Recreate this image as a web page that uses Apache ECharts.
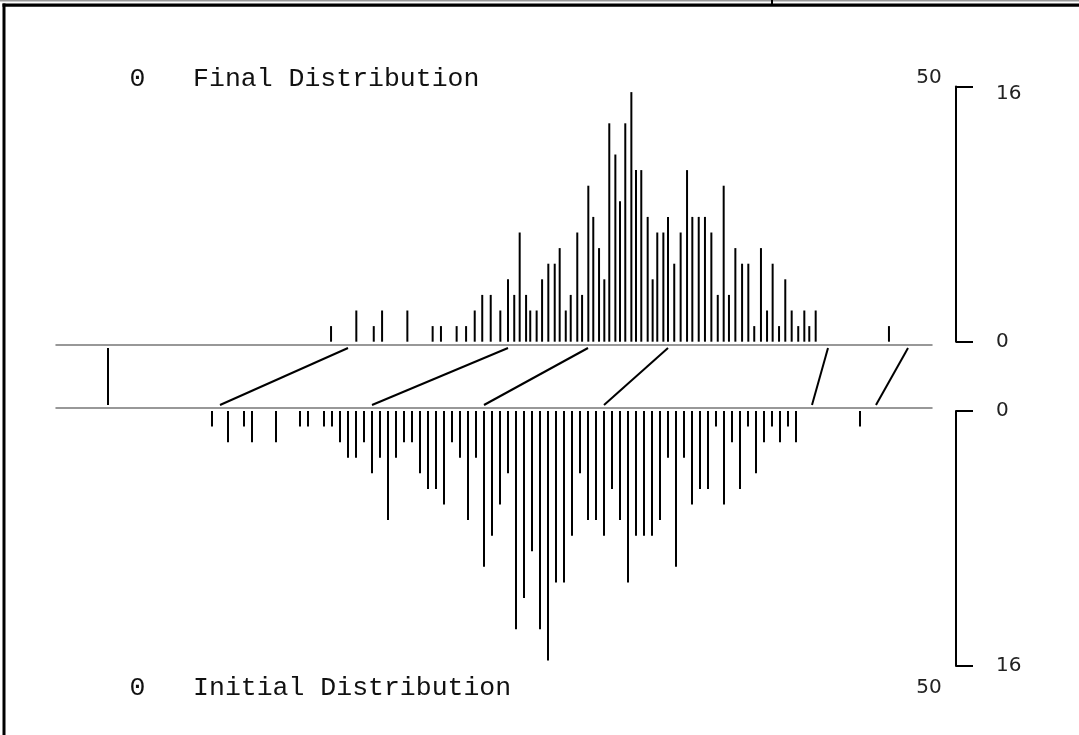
<!DOCTYPE html>
<html>
<head>
<meta charset="utf-8">
<script src="https://cdn.jsdelivr.net/npm/echarts@6/dist/echarts.min.js"></script>
<style>
html,body{margin:0;padding:0;background:#fff;}
#chart{width:1079px;height:735px;}
</style>
</head>
<body>
<div id="chart"></div>
<script>
// ---- data ----
// number of cases at each distinct score (same for both distributions)
const counts = [1,2,1,2,2,1,1,
  1,1,2,3,3,2,4,3,7,3,2,2,4,5,5,6,2,3,7,3,
  10,8,6,4,14,12,9,14,16,11,11,8,4,7,7,8,5,7,11,8,8,8,7,3,10,3,6,5,5,1,6,2,5,1,4,2,1,2,1,2,
  1];
// score of each bar in the initial distribution
const initialScores = [6.5,7.5,8.5,9,10.5,12,12.5,
  13.5,14,14.5,15,15.5,16,16.5,17,17.5,18,18.5,19,19.5,20,20.5,21,21.5,22,22.5,23,
  23.5,24,24.5,25,25.5,26,26.5,27,27.5,28,28.5,29,29.5,30,30.5,31,31.5,32,32.5,33,
  33.5,34,34.5,35,35.5,36,36.5,37,37.5,38,38.5,39,39.5,40,40.5,41,41.5,42,42.5,43,
  47];
// score of the same bar in the final distribution
const finalScores = [13.94,15.52,16.61,17.13,18.71,20.29,20.81,
  21.79,22.38,22.92,23.39,23.92,24.52,25.0,25.39,25.73,26.13,26.39,26.79,27.13,27.52,27.92,28.23,28.61,28.92,29.33,29.63,
  30.02,30.33,30.69,31.02,31.33,31.71,32.0,32.33,32.71,33.0,33.33,33.73,34.04,34.33,34.71,35.0,35.39,35.79,36.19,36.52,
  36.92,37.31,37.71,38.11,38.48,38.81,39.21,39.63,40.02,40.39,40.81,41.19,41.54,41.94,42.33,42.73,43.14,43.52,43.83,44.23,
  48.81];
// connecting lines: initial score -> final score
const knotInitial = [0, 7, 16.5, 23.5, 31, 44, 48];
const knotFinal   = [0, 15, 25, 30, 35, 45, 50];
// labels
const countTicks = [0, 16];
const scoreRangeLabels = ['0', '50'];
const titles = ['Final Distribution', 'Initial Distribution'];

// ---- chart ----
const chart = echarts.init(document.getElementById('chart'), null, {renderer: 'canvas'});
const monoFont = '"Liberation Mono", "DejaVu Sans Mono", monospace';
const sansFont = '"DejaVu Sans", "Liberation Sans", sans-serif';

const X_MIN = -3.25, X_MAX = 51.5;
const BAR_MAX = 16.36;

function scoreAxis(gridIndex, extra) {
  return Object.assign({
    type: 'value', gridIndex: gridIndex, min: X_MIN, max: X_MAX,
    axisLabel: {show: false}, axisTick: {show: false}, splitLine: {show: false},
    axisLine: {show: false}
  }, extra || {});
}
function bracketAxis(gridIndex, inverse, hiPad) {
  return {
    type: 'value', gridIndex: gridIndex, position: 'right', offset: 24,
    min: countTicks[0], max: countTicks[1], interval: countTicks[1] - countTicks[0],
    inverse: inverse,
    splitLine: {show: false},
    axisLine: {show: true, lineStyle: {color: '#000', width: 2}},
    axisTick: {show: true, length: 17, lineStyle: {color: '#000', width: 2}},
    axisLabel: {
      show: true, margin: 40, color: '#222',
      formatter: function (v) { return v === countTicks[1] ? '{hi|' + v + '}' : '{lo|' + v + '}'; },
      rich: {
        hi: {fontFamily: sansFont, fontSize: 20, color: '#222', padding: [hiPad, 0, 0, 0]},
        lo: {fontFamily: sansFont, fontSize: 20, color: '#222'}
      }
    }
  };
}

const option = {
  animation: false,
  backgroundColor: '#fff',
  grid: [
    {left: 56, right: 147, top: 86.5, height: 255.2, outerBoundsMode: 'none'},
    {left: 56, right: 147, top: 348, height: 57, outerBoundsMode: 'none'},
    {left: 56, right: 147, top: 411, height: 255, outerBoundsMode: 'none'}
  ],
  xAxis: [
    scoreAxis(0, {position: 'bottom', offset: 3, axisLine: {show: true, onZero: false, lineStyle: {color: '#777', width: 1.5}}}),
    scoreAxis(1, {show: false}),
    scoreAxis(2, {position: 'top', offset: 3, axisLine: {show: true, onZero: false, lineStyle: {color: '#777', width: 1.5}}})
  ],
  yAxis: [
    {type: 'value', gridIndex: 0, min: 0, max: BAR_MAX, show: false, position: 'left'},
    bracketAxis(0, false, 14),
    {type: 'value', gridIndex: 1, min: 0, max: 1, show: false},
    {type: 'value', gridIndex: 2, min: 0, max: BAR_MAX, inverse: true, show: false, position: 'left'},
    bracketAxis(2, true, 0)
  ],
  series: [
    {
      type: 'bar', xAxisIndex: 0, yAxisIndex: 0, barWidth: 2,
      itemStyle: {color: '#000'},
      data: finalScores.map(function (x, i) { return [x, counts[i]]; })
    },
    {
      type: 'bar', xAxisIndex: 2, yAxisIndex: 3, barWidth: 2,
      itemStyle: {color: '#000'},
      data: initialScores.map(function (x, i) { return [x, counts[i]]; })
    },
    {
      type: 'lines', coordinateSystem: 'cartesian2d', xAxisIndex: 1, yAxisIndex: 2,
      symbol: 'none',
      lineStyle: {color: '#000', width: 2, opacity: 1, curveness: 0},
      data: knotInitial.map(function (a, i) { return {coords: [[a, 0], [knotFinal[i], 1]]}; })
    }
  ],
  graphic: [
    {type: 'rect', shape: {x: 0, y: 0, width: 1079, height: 1.5}, style: {fill: '#999'}, silent: true},
    {type: 'rect', shape: {x: 2.5, y: 3.5, width: 1076.5, height: 3.2}, style: {fill: '#000'}, silent: true},
    {type: 'rect', shape: {x: 771, y: 0, width: 2, height: 4}, style: {fill: '#000'}, silent: true},
    {type: 'rect', shape: {x: 2.5, y: 3.5, width: 3, height: 732}, style: {fill: '#000'}, silent: true},
    {type: 'text', x: 129.5, y: 79, silent: true,
      style: {text: scoreRangeLabels[0] + '   ' + titles[0], font: '26.5px ' + monoFont, fill: '#111', textVerticalAlign: 'middle', verticalAlign: 'middle'}},
    {type: 'text', x: 929, y: 78, silent: true,
      style: {text: scoreRangeLabels[1], font: '20px ' + sansFont, fill: '#222', textAlign: 'center', align: 'center', verticalAlign: 'middle', textVerticalAlign: 'middle'}},
    {type: 'text', x: 129.5, y: 688, silent: true,
      style: {text: scoreRangeLabels[0] + '   ' + titles[1], font: '26.5px ' + monoFont, fill: '#111', textVerticalAlign: 'middle', verticalAlign: 'middle'}},
    {type: 'text', x: 929, y: 688, silent: true,
      style: {text: scoreRangeLabels[1], font: '20px ' + sansFont, fill: '#222', textAlign: 'center', align: 'center', verticalAlign: 'middle', textVerticalAlign: 'middle'}}
  ]
};
chart.setOption(option);
</script>
</body>
</html>
